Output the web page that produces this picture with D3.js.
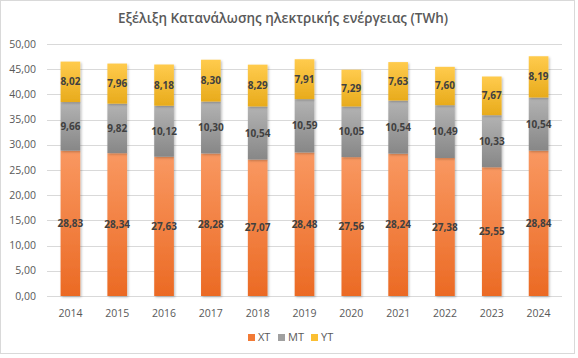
<!DOCTYPE html>
<html>
<head>
<meta charset="utf-8">
<script src="https://cdn.jsdelivr.net/npm/d3@7"></script>
<style>
  body { margin: 0; background: #fff; }
  svg { display: block; font-family: "Open Sans", "Noto Sans", sans-serif; }
</style>
</head>
<body>
<div class="chart"></div>
<script>
var years = ['2014', '2015', '2016', '2017', '2018', '2019', '2020', '2021', '2022', '2023', '2024']
var xt = [28.83, 28.34, 27.63, 28.28, 27.07, 28.48, 27.56, 28.24, 27.38, 25.55, 28.84]
var mt = [9.66, 9.82, 10.12, 10.30, 10.54, 10.59, 10.05, 10.54, 10.49, 10.33, 10.54]
var yt = [8.02, 7.96, 8.18, 8.30, 8.29, 7.91, 7.29, 7.63, 7.60, 7.67, 8.19]
var seriesNames = ['XT', 'MT', 'YT']
var yTicks = [0, 5, 10, 15, 20, 25, 30, 35, 40, 45, 50]
var title = 'Εξέλιξη Κατανάλωσης ηλεκτρικής ενέργειας (TWh)'

var width = 578, height = 358
var margin = {left: 47, right: 16, top: 44, bottom: 62}

var svg = d3.select('.chart').append('svg')
  .attr('width', width).attr('height', height)

// chart frame
svg.append('rect')
  .attr('x', 0.5).attr('y', 0.5).attr('width', 574).attr('height', 353)
  .attr('fill', '#fff').attr('stroke', '#d9d9d9')

var defs = svg.append('defs')
var grads = [['#f99861', '#eb6a24'], ['#b3b3b3', '#878787'], ['#ffcb4d', '#e8ab1c']]
grads.forEach(function(g, i){
  var lg = defs.append('linearGradient').attr('id', 'g' + i)
    .attr('x1', 0).attr('y1', 0).attr('x2', 0).attr('y2', 1)
  lg.append('stop').attr('offset', '0%').attr('stop-color', g[0])
  lg.append('stop').attr('offset', '100%').attr('stop-color', g[1])
})
var legendColors = ['#f27a35', '#a0a0a0', '#fbbf32']

var shadow = defs.append('filter').attr('id', 'shadow')
  .attr('x', '-30%').attr('y', '-10%').attr('width', '160%').attr('height', '120%')
shadow.append('feDropShadow')
  .attr('dx', 1.2).attr('dy', 1.2).attr('stdDeviation', 1.2)
  .attr('flood-color', '#000').attr('flood-opacity', 0.25)

var x = d3.scaleBand().domain(years)
  .range([margin.left, width - margin.right]).paddingInner(0.58).paddingOuter(0.29)
var y = d3.scaleLinear().domain([0, 50]).range([height - margin.bottom, margin.top])

// gridlines
svg.append('g').selectAll('line').data(yTicks).join('line')
  .attr('x1', margin.left).attr('x2', width - margin.right)
  .attr('y1', d => Math.round(y(d)) + 0.5).attr('y2', d => Math.round(y(d)) + 0.5)
  .attr('stroke', '#d9d9d9')

var fmt = d => d.toFixed(2).replace('.', ',')

// y labels
svg.append('g').selectAll('text').data(yTicks).join('text')
  .attr('x', 36).attr('y', d => y(d)).attr('dy', '0.35em')
  .attr('text-anchor', 'end').attr('font-size', 10.5).attr('fill', '#595959')
  .text(fmt)

// x labels
svg.append('g').selectAll('text').data(years).join('text')
  .attr('x', d => x(d) + x.bandwidth() / 2).attr('y', 313).attr('dy', '0.35em')
  .attr('text-anchor', 'middle').attr('font-size', 10.5).attr('fill', '#595959')
  .text(d => d)

var rows = years.map((yr, i) => ({year: yr, XT: xt[i], MT: mt[i], YT: yt[i]}))
var stacked = d3.stack().keys(seriesNames)(rows)

var layers = svg.append('g').selectAll('g').data(stacked).join('g')
  .attr('fill', (d, i) => 'url(#g' + i + ')')

layers.selectAll('rect').data(d => d).join('rect')
  .attr('x', d => x(d.data.year)).attr('width', x.bandwidth())
  .attr('y', d => y(d[1])).attr('height', d => y(d[0]) - y(d[1]))
  .attr('filter', 'url(#shadow)')

svg.append('g').selectAll('g').data(stacked).join('g')
  .selectAll('text').data(d => d).join('text')
  .attr('x', d => x(d.data.year) + x.bandwidth() / 2)
  .attr('y', d => y((d[0] + d[1]) / 2)).attr('dy', '0.35em')
  .attr('text-anchor', 'middle').attr('font-size', 10).attr('font-weight', 'bold')
  .attr('fill', '#404040')
  .text(d => fmt(d[1] - d[0]))

// title
svg.append('text')
  .attr('x', 283).attr('y', 23)
  .attr('text-anchor', 'middle').attr('font-size', 13.5).attr('font-weight', 600)
  .attr('fill', '#595959')
  .text(title)

// legend
var legendX = [248, 278, 311]
var lg = svg.append('g').selectAll('g').data(seriesNames).join('g')
  .attr('transform', (d, i) => 'translate(' + legendX[i] + ',334)')
lg.append('rect').attr('width', 7).attr('height', 7)
  .attr('fill', (d, i) => legendColors[i])
lg.append('text').attr('x', 10).attr('y', 3.5).attr('dy', '0.36em')
  .attr('font-size', 11).attr('fill', '#595959')
  .text(d => d)
</script>
</body>
</html>
